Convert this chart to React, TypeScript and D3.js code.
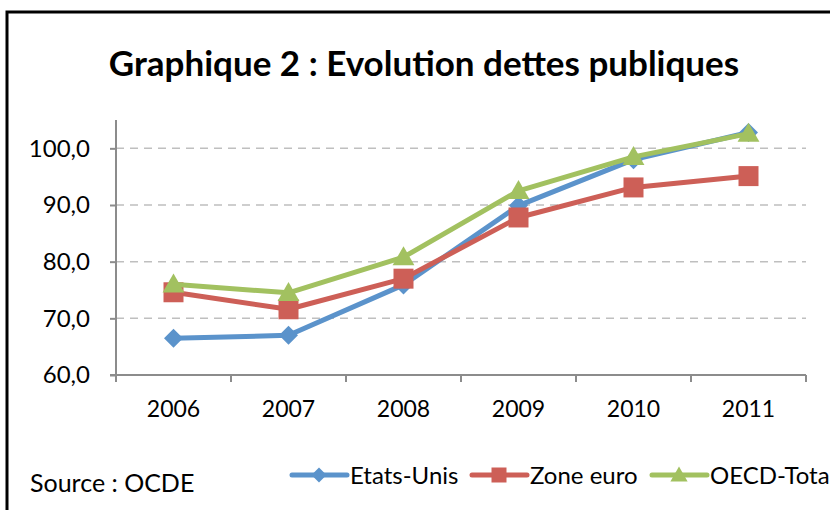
import { useEffect, useRef } from "react";
import * as d3 from "d3";

const years = ["2006", "2007", "2008", "2009", "2010", "2011"];
const etatsUnis = [66.5, 67.0, 75.9, 89.9, 98.0, 102.8];
const zoneEuro = [74.6, 71.6, 77.0, 87.8, 93.1, 95.1];
const oecdTotal = [76.0, 74.5, 80.8, 92.5, 98.5, 102.6];
const yTicks = [60, 70, 80, 90, 100];

const seriesNames = ["Etats-Unis", "Zone euro", "OECD-Total"];
const seriesColors = ["#5B93CB", "#CD5F57", "#A2C160"];
const seriesMarkers = ["diamond", "square", "triangle"];

const FONT = "Lato, 'Open Sans', sans-serif";

export default function App() {
  const svgRef = useRef<SVGSVGElement>(null);

  useEffect(() => {
    if (!svgRef.current) return;
    const W = 830;
    const H = 510;
    const margin = { top: 120, right: 24, bottom: 135, left: 116 };
    const innerW = W - margin.left - margin.right;
    const innerH = H - margin.top - margin.bottom;

    const root = d3.select(svgRef.current);
    root.selectAll("*").remove();

    root.append("rect").attr("width", W).attr("height", H).attr("fill", "#fff");

    // outer frame (cropped on right and bottom, as in the source picture)
    root.append("path")
      .attr("d", `M7,${H + 5} L7,12 L${W + 5},12`)
      .attr("fill", "none")
      .attr("stroke", "#000")
      .attr("stroke-width", 3);

    root.append("text")
      .attr("x", 424)
      .attr("y", 76)
      .attr("text-anchor", "middle")
      .attr("font-family", FONT)
      .attr("font-weight", 700)
      .attr("font-size", 35)
      .attr("fill", "#000")
      .text("Graphique 2 : Evolution dettes publiques");

    const g = root.append("g").attr("transform", `translate(${margin.left},${margin.top})`);

    const x = d3.scaleBand().domain(years).range([0, innerW]);
    const y = d3.scaleLinear().domain([60, 105]).range([innerH, 0]);

    // gridlines
    g.selectAll(".grid")
      .data(yTicks.filter(t => t > 60))
      .enter()
      .append("line")
      .attr("x1", 0).attr("x2", innerW)
      .attr("y1", d => y(d)).attr("y2", d => y(d))
      .attr("stroke", "#BFBFBF")
      .attr("stroke-width", 1.5)
      .attr("stroke-dasharray", "8,6");

    // y axis
    const yAxis = d3.axisLeft(y).tickValues(yTicks).tickSize(6).tickPadding(20)
      .tickFormat(d => Number(d).toFixed(1).replace(".", ","));
    const ya = g.append("g").call(yAxis);
    ya.select(".domain").attr("d", `M-6,${innerH} H0 V0`);
    ya.selectAll(".tick text").attr("font-size", 24);

    // x axis
    const xAxis = d3.axisBottom(x).tickSize(0).tickPadding(26);
    const xa = g.append("g").attr("transform", `translate(0,${innerH})`).call(xAxis);
    xa.select(".domain").attr("d", `M0,0 H${innerW}`);
    xa.selectAll(".tickmark")
      .data(d3.range(years.length + 1))
      .enter()
      .append("line")
      .attr("x1", i => i * x.step()).attr("x2", i => i * x.step())
      .attr("y1", 0).attr("y2", 7)
      .attr("stroke", "#8C8C8C")
      .attr("stroke-width", 2);
    xa.selectAll(".tick text").attr("font-size", 23);

    g.selectAll(".domain, .tick line").attr("stroke", "#8C8C8C").attr("stroke-width", 2);
    g.selectAll(".tick text")
      .attr("font-family", FONT)
      .attr("fill", "#000");

    const markerPath = (kind: string, s: number) => {
      if (kind === "diamond") return `M0,${-s} L${s},0 L0,${s} L${-s},0 Z`;
      if (kind === "square") return `M${-s},${-s} H${s} V${s} H${-s} Z`;
      return `M0,${-s * 1.15} L${s * 1.15},${s * 0.85} L${-s * 1.15},${s * 0.85} Z`;
    };
    const markerSize = [9.5, 10, 9.5];

    const allSeries = [etatsUnis, zoneEuro, oecdTotal];
    const line = d3.line<number>()
      .x((_, i) => (x(years[i]) ?? 0) + x.bandwidth() / 2)
      .y(d => y(d));

    allSeries.forEach((vals, si) => {
      g.append("path")
        .attr("d", line(vals) ?? "")
        .attr("fill", "none")
        .attr("stroke", seriesColors[si])
        .attr("stroke-width", 5)
        .attr("stroke-linejoin", "round");
      g.selectAll(`.m${si}`)
        .data(vals)
        .enter()
        .append("path")
        .attr("transform", (d, i) => `translate(${(x(years[i]) ?? 0) + x.bandwidth() / 2},${y(d)})`)
        .attr("d", markerPath(seriesMarkers[si], markerSize[si]))
        .attr("fill", seriesColors[si]);
    });

    // source
    root.append("text")
      .attr("x", 30).attr("y", 492)
      .attr("font-family", FONT).attr("font-size", 25)
      .attr("fill", "#000")
      .text("Source : OCDE");

    // legend
    const legendX = [292, 472, 652];
    const legendY = 475;
    seriesNames.forEach((name, si) => {
      const lg = root.append("g").attr("transform", `translate(${legendX[si]},${legendY})`);
      lg.append("line")
        .attr("x1", 0).attr("x2", 55)
        .attr("stroke", seriesColors[si])
        .attr("stroke-width", 5)
        .attr("stroke-linecap", "round");
      lg.append("path")
        .attr("transform", "translate(27,0)")
        .attr("d", markerPath(seriesMarkers[si], 7.5))
        .attr("fill", seriesColors[si]);
      lg.append("text")
        .attr("x", 58).attr("y", 9)
        .attr("font-family", FONT).attr("font-size", 24)
        .attr("fill", "#000")
        .text(name);
    });
  }, []);

  return (
    <svg
      ref={svgRef}
      width={830}
      height={510}
      style={{ position: "absolute", left: 0, top: 0, display: "block" }}
    />
  );
}
